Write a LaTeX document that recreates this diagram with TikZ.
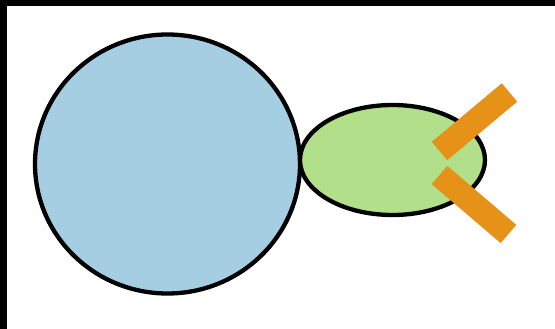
\documentclass[tikz,border=0pt]{standalone}
\definecolor{cblue}{HTML}{A6CEE3}
\definecolor{cgreen}{HTML}{B2DF8A}
\definecolor{corange}{HTML}{E69118}
\tikzset{
  outline/.style={draw=black, line width=4.3pt},
  bar/.style={draw=corange, line width=24pt, line cap=butt}
}
\begin{document}
\begin{tikzpicture}[x=1pt,y=-1pt]
\useasboundingbox (0,0) rectangle (555,329);
\fill[white] (0,0) rectangle (555,329);
\fill[black] (0,0) rectangle (7,329);
\fill[black] (0,0) rectangle (555,6);
\draw[outline, fill=cblue] (167.5,164) ellipse [x radius=132.5, y radius=129.5];
\draw[outline, fill=cgreen] (392.5,160) ellipse [x radius=92.5, y radius=55];
\coordinate (u1) at (439.5,151);
\coordinate (u2) at (509.5,92.5);
\coordinate (l1) at (439.5,175);
\coordinate (l2) at (508.5,234);
\draw[bar] (u1) -- (u2);
\draw[bar] (l1) -- (l2);
\end{tikzpicture}
\end{document}
